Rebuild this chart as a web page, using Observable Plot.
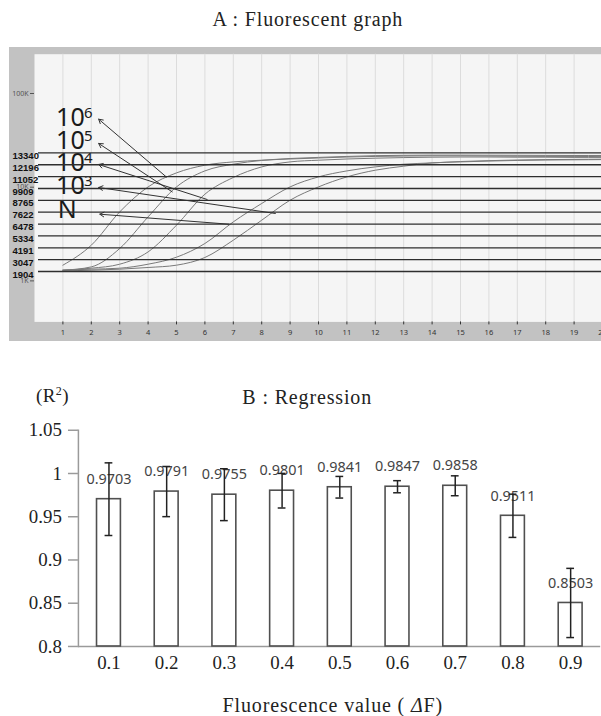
<!DOCTYPE html>
<html><head><meta charset="utf-8">
<script src="https://cdn.jsdelivr.net/npm/d3@7"></script>
<script src="https://cdn.jsdelivr.net/npm/@observablehq/plot@0.6"></script>
<style>
body{margin:0;background:#fff;}
#root{position:relative;width:601px;height:716px;overflow:hidden;background:#fff;}
.abs{position:absolute;}
.ttl{font-family:"Liberation Serif","Times New Roman",serif;color:#222;white-space:nowrap;letter-spacing:0.85px;}
</style></head><body><div id="root"></div>
<script>
// ---------- Panel A data ----------
const cycles = [1,2,3,4,5,6,7,8,9,10,11,12,13,14,15,16,17,18,19,20];
const seriesNames = ["10^6","10^5","10^4","10^3","N"];
const curve106 = [1471,2404,5451,10074,14213,17170,18621,19413,20245,20800,21300,21700,21900,22000,22000,21950,21900,21850,21800,21800];
const curve105 = [1301,1411,2217,4820,10074,14928,17600,19300,20000,20500,21000,21300,21500,21600,21600,21500,21400,21300,21300,21200];
const curve104 = [1301,1366,1507,2039,3930,8421,12694,16469,18621,19413,20000,20400,20700,20900,21000,21000,20900,20900,20800,20800];
const curve103 = [1301,1333,1366,1507,1790,2507,4263,6699,10074,12882,14928,16469,17600,18167,18800,19200,19500,19700,19800,19900];
const curveN   = [1279,1301,1333,1390,1471,1777,2719,4443,7266,10074,12882,15186,16755,18167,18621,19000,19300,19500,19600,19700];
const thresholds = [13340,12196,11052,9909,8765,7622,6478,5334,4191,3047,1904];
const yTicksA = [1000,10000,100000];
const xTicksA = cycles;
// annotations (data units)
const annoBase = ["10","10","10","10","N"];
const annoExp  = ["6","5","4","3",""];
const annoX    = [0.76,0.76,0.76,0.76,0.817];
const annoY    = [44770,25880,14822,8421,4634];
const arrowTailX = [4.64,4.85,6.08,8.48,6.84];
const arrowTailY = [12882,8910,7390,5241,4028];
const arrowHeadX = [2.26,2.26,2.26,2.26,2.30];
const arrowHeadY = [53180,29270,17470,9926,5151];

// ---------- Panel B data ----------
const deltaF = ["0.1","0.2","0.3","0.4","0.5","0.6","0.7","0.8","0.9"];
const r2 = [0.9703,0.9791,0.9755,0.9801,0.9841,0.9847,0.9858,0.9511,0.8503];
const r2err = [0.042,0.029,0.030,0.020,0.0125,0.007,0.0115,0.025,0.040];
const yTicksB = [0.8,0.85,0.9,0.95,1,1.05];

// ---------- build tables ----------
const curves = [curve106,curve105,curve104,curve103,curveN];
const curveRows = [];
curves.forEach((arr,si)=>arr.forEach((v,i)=>curveRows.push({series:seriesNames[si],cycle:cycles[i],f:v})));
const annoRows = annoBase.map((b,i)=>({base:b,exp:annoExp[i],x:annoX[i],y:annoY[i],
  x1:arrowTailX[i],y1:arrowTailY[i],x2:arrowHeadX[i],y2:arrowHeadY[i]}));
const barRows = deltaF.map((c,i)=>({c,v:r2[i],lo:r2[i]-r2err[i],hi:r2[i]+r2err[i],label:r2[i].toFixed(4)}));

const root = document.getElementById("root");
function place(el,left,top){el.style.position="absolute";el.style.left=left+"px";el.style.top=top+"px";root.appendChild(el);return el;}
function title(html,cx,top,size){const d=document.createElement("div");d.className="ttl";d.innerHTML=html;
  d.style.fontSize=size+"px";d.style.lineHeight=size+"px";d.style.transform="translateX(-50%)";place(d,cx,top);return d;}

const sans = "'Noto Sans', 'DejaVu Sans', sans-serif";

// ---------- Panel A ----------
const plotA = Plot.plot({
  width:594, height:294,
  marginLeft:25, marginRight:1, marginTop:6.7, marginBottom:19.6,
  style:{background:"#c2c2c2", fontFamily:sans, overflow:"visible"},
  x:{domain:[0,20]},
  y:{type:"log", domain:[365,262700]},
  marks:[
    Plot.frame({fill:"#f5f5f5", stroke:"none"}),
    Plot.gridX(xTicksA,{stroke:"#dcdcdc", strokeOpacity:1}),
    Plot.axisX({ticks:xTicksA, tickSize:3, tickPadding:4.5, fontSize:7.5, fill:"#333", stroke:"#333", label:null}),
    Plot.axisY({ticks:yTicksA, tickSize:4, tickPadding:2, fontSize:7, fill:"#555", stroke:"#555", label:null,
      tickFormat:d=>d3.format("~s")(d).toUpperCase()}),
    Plot.line(curveRows,{x:"cycle", y:"f", z:"series", stroke:"#7a7a7a", strokeWidth:1, curve:"monotone-x"}),
    Plot.arrow(annoRows,{x1:"x1",y1:"y1",x2:"x2",y2:"y2", stroke:"#333", strokeWidth:1, headLength:7, bend:0}),
    Plot.text(annoRows,{x:"x", y:"y", text:"base", textAnchor:"start", lineAnchor:"bottom", fontSize:25, fill:"#1a1a1a", fontFamily:sans}),
    Plot.text(annoRows,{x:"x", y:"y", text:"exp", textAnchor:"start", lineAnchor:"bottom", fontSize:15, dx:28, dy:-8, fill:"#1a1a1a", fontFamily:sans})
  ]
});
plotA.style.position="absolute"; place(plotA,9.3,47.3);

// threshold overlay (linear scale)
const plotT = Plot.plot({
  width:594, height:294,
  marginLeft:29, marginRight:1, marginTop:105.4, marginBottom:70,
  style:{background:"transparent", fontFamily:"'Liberation Sans', Arial, sans-serif", overflow:"visible"},
  x:{axis:null}, y:{axis:null, domain:[1904,13340]},
  marks:[
    Plot.ruleY(thresholds,{stroke:"#2e2e2e", strokeWidth:1.3}),
    Plot.text(thresholds,{y:d=>d, text:d=>String(d), frameAnchor:"left", dx:-26, dy:3, textAnchor:"start",
      fontSize:9.5, fontWeight:"bold", fill:"#111"})
  ]
});
place(plotT,9.3,47.3);

title("A : Fluorescent graph",307.8,9.25,20);

// ---------- Panel B ----------
const serif = "'Liberation Serif', 'Times New Roman', serif";
const plotB = Plot.plot({
  width:604, height:336,
  marginLeft:78.3, marginRight:0.8, marginTop:50, marginBottom:68.7,
  style:{background:"transparent", fontFamily:serif, overflow:"visible"},
  x:{type:"band", domain:deltaF, paddingInner:0.584, paddingOuter:0.286},
  y:{domain:[yTicksB[0], yTicksB[yTicksB.length-1]]},
  marks:[
    Plot.axisY({ticks:yTicksB, tickSize:10, tickPadding:6.6, fontSize:19, fill:"#222", stroke:"#9a9a9a", strokeWidth:1.5,
      tickFormat:d=>String(+d.toFixed(2)), label:null, fontFamily:serif}),
    Plot.axisX({tickSize:0, tickPadding:9.5, fontSize:19, fill:"#222", label:null, fontFamily:serif}),
    Plot.frame({anchor:"left", stroke:"#9a9a9a", strokeWidth:1.5}),
    Plot.ruleY([yTicksB[0]],{stroke:"#9a9a9a", strokeWidth:1.5}),
    Plot.barY(barRows,{x:"c", y1:yTicksB[0], y2:"v", fill:"white", stroke:"#505050", strokeWidth:1.6}),
    Plot.text(barRows,{x:"c", y:"v", text:"label", dy:-20, fontSize:14.5, fill:"#444", fontFamily:sans}),
    Plot.ruleX(barRows,{x:"c", y1:"lo", y2:"hi", stroke:"#222", strokeWidth:1.5}),
    Plot.tickY(barRows,{x:"c", y:"lo", stroke:"#222", strokeWidth:1.5, insetLeft:8.1, insetRight:8.1}),
    Plot.tickY(barRows,{x:"c", y:"hi", stroke:"#222", strokeWidth:1.5, insetLeft:8.1, insetRight:8.1})
  ]
});
place(plotB,0,380);

title("B : Regression",307.2,386.55,20);
const r = document.createElement("div"); r.className="ttl"; r.innerHTML="(R<sup style='font-size:12px;vertical-align:7px;line-height:0'>2</sup>)";
r.style.fontSize="19px"; r.style.lineHeight="19px"; r.style.letterSpacing="0.4px"; place(r,36,385.6);
title("Fluorescence value ( <i>Δ</i>F)",332.8,695,20);
</script></body></html>
